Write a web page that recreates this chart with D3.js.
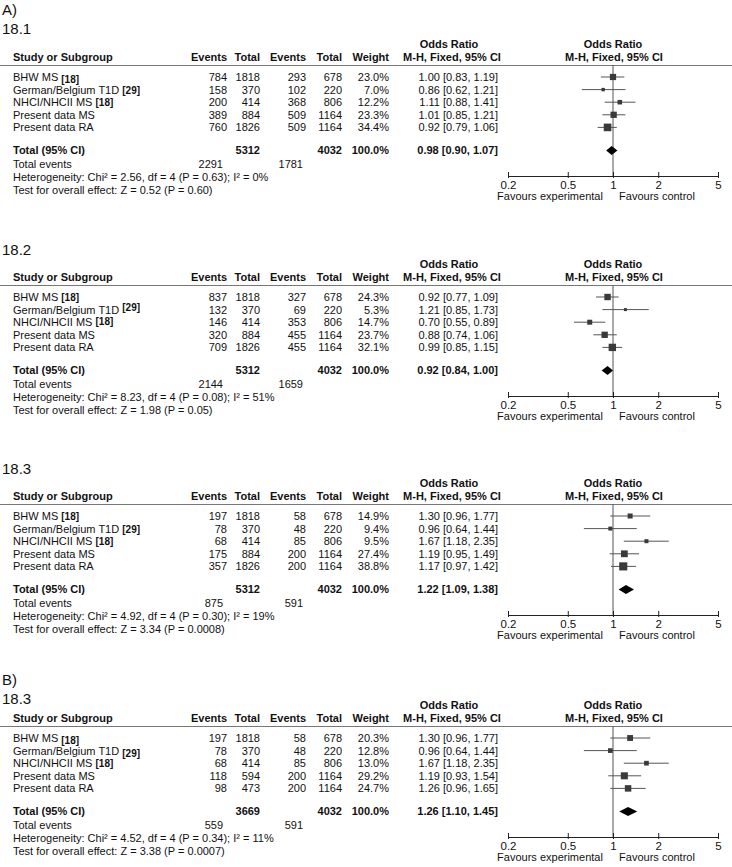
<!DOCTYPE html>
<html>
<head>
<meta charset="utf-8">
<script src="https://cdn.jsdelivr.net/npm/d3@7"></script>
<style>
  body { margin: 0; background: #fff; }
  text { font-family: "Liberation Sans", Arial, sans-serif; fill: #111; }
</style>
</head>
<body>
<div id="container"></div>
<script>
/* DATA */
const studies = ["BHW MS", "German/Belgium T1D", "NHCI/NHCII MS", "Present data MS", "Present data RA"];
const refs = ["[18]", "[29]", "[18]", "", ""];

const groupLabels = ["A)", "", "", "B)"];
const panelTitles = ["18.1", "18.2", "18.3", "18.3"];

const expEvents = [[784, 158, 200, 389, 760], [837, 132, 146, 320, 709], [197, 78, 68, 175, 357], [197, 78, 68, 118, 98]];
const expTotals = [[1818, 370, 414, 884, 1826], [1818, 370, 414, 884, 1826], [1818, 370, 414, 884, 1826], [1818, 370, 414, 594, 473]];
const ctlEvents = [[293, 102, 368, 509, 509], [327, 69, 353, 455, 455], [58, 48, 85, 200, 200], [58, 48, 85, 200, 200]];
const ctlTotals = [[678, 220, 806, 1164, 1164], [678, 220, 806, 1164, 1164], [678, 220, 806, 1164, 1164], [678, 220, 806, 1164, 1164]];
const weights = [[23.0, 7.0, 12.2, 23.3, 34.4], [24.3, 5.3, 14.7, 23.7, 32.1], [14.9, 9.4, 9.5, 27.4, 38.8], [20.3, 12.8, 13.0, 29.2, 24.7]];
const oddsRatio = [[1.00, 0.86, 1.11, 1.01, 0.92], [0.92, 1.21, 0.70, 0.88, 0.99], [1.30, 0.96, 1.67, 1.19, 1.17], [1.30, 0.96, 1.67, 1.19, 1.26]];
const ciLow = [[0.83, 0.62, 0.88, 0.85, 0.79], [0.77, 0.85, 0.55, 0.74, 0.85], [0.96, 0.64, 1.18, 0.95, 0.97], [0.96, 0.64, 1.18, 0.93, 0.96]];
const ciHigh = [[1.19, 1.21, 1.41, 1.21, 1.06], [1.09, 1.73, 0.89, 1.06, 1.15], [1.77, 1.44, 2.35, 1.49, 1.42], [1.77, 1.44, 2.35, 1.54, 1.65]];

const totalExp = [5312, 5312, 5312, 3669];
const totalCtl = [4032, 4032, 4032, 4032];
const pooledOR = [0.98, 0.92, 1.22, 1.26];
const pooledLow = [0.90, 0.84, 1.09, 1.10];
const pooledHigh = [1.07, 1.00, 1.38, 1.45];
const totalEventsExp = [2291, 2144, 875, 559];
const totalEventsCtl = [1781, 1659, 591, 591];
const chiSq = ["2.56", "8.23", "4.92", "4.52"];
const pHet = ["0.63", "0.08", "0.30", "0.34"];
const iSq = ["0%", "51%", "19%", "11%"];
const zValue = ["0.52", "1.98", "3.34", "3.38"];
const pOverall = ["0.60", "0.05", "0.0008", "0.0007"];

const axisTicks = [0.2, 0.5, 1, 2, 5];

/* CONSTANTS */
const width = 732;
const height = 867;
const lineYs = [65, 285, 504, 726];   // header rule of each panel
const rowStep = 12.6;
const fmt2 = d3.format(".2f");

// reference tag vertical offsets (some raised, some lowered in the original)
const refShift = [[2, 0, 0], [0, -3, -1], [0, 0, 0], [2, 2, 0]];

const svg = d3.select("#container")
  .append("svg")
  .attr("width", width)
  .attr("height", height);

const x = d3.scaleLog().domain([0.2, 5]).range([508, 718]);
const side = d3.scaleSqrt().domain([0, 100]).range([0, 13]);

function txt(g, xp, yp, s, opts = {}) {
  return g.append("text")
    .attr("x", xp).attr("y", yp)
    .attr("font-size", opts.size || 11)
    .attr("font-weight", opts.bold ? "bold" : null)
    .attr("text-anchor", opts.anchor || "start")
    .text(s);
}

panelTitles.forEach((title, p) => {
  const L = lineYs[p];
  const g = svg.append("g");

  // section labels
  if (p === 0) {
    txt(g, 2, L - 50, groupLabels[p], { size: 15 });
    txt(g, 2, L - 31, title, { size: 15 });
  } else if (groupLabels[p]) {
    txt(g, 2, L - 41, groupLabels[p], { size: 15 });
    txt(g, 2, L - 22, title, { size: 15 });
  } else {
    txt(g, 2, L - 30, title, { size: 15 });
  }

  // HEADERS
  txt(g, 449, L - 17, "Odds Ratio", { bold: true, anchor: "middle" });
  txt(g, 613, L - 17, "Odds Ratio", { bold: true, anchor: "middle" });
  const hy = L - 4;
  txt(g, 13, hy, "Study or Subgroup", { bold: true });
  txt(g, 227, hy, "Events", { bold: true, anchor: "end" });
  txt(g, 260, hy, "Total", { bold: true, anchor: "end" });
  txt(g, 306, hy, "Events", { bold: true, anchor: "end" });
  txt(g, 342, hy, "Total", { bold: true, anchor: "end" });
  txt(g, 389, hy, "Weight", { bold: true, anchor: "end" });
  txt(g, 452, hy, "M-H, Fixed, 95% CI", { bold: true, anchor: "middle" });
  txt(g, 614, hy, "M-H, Fixed, 95% CI", { bold: true, anchor: "middle" });

  g.append("line")
    .attr("x1", 0).attr("x2", width)
    .attr("y1", L + 0.5).attr("y2", L + 0.5)
    .attr("stroke", "#777").attr("stroke-width", 1);

  // STUDY ROWS
  const rowY = i => L + 12 + i * rowStep;
  studies.forEach((s, i) => {
    const by = rowY(i) + 4;
    const t = txt(g, 13, by, s + " ");
    if (refs[i]) {
      t.append("tspan")
        .attr("font-weight", "bold")
        .attr("font-size", 10)
        .attr("dy", refShift[p][i])
        .text(refs[i]);
    }
    txt(g, 227, by, expEvents[p][i], { anchor: "end" });
    txt(g, 260, by, expTotals[p][i], { anchor: "end" });
    txt(g, 306, by, ctlEvents[p][i], { anchor: "end" });
    txt(g, 342, by, ctlTotals[p][i], { anchor: "end" });
    txt(g, 389, by, d3.format(".1f")(weights[p][i]) + "%", { anchor: "end" });
    txt(g, 498, by, `${fmt2(oddsRatio[p][i])} [${fmt2(ciLow[p][i])}, ${fmt2(ciHigh[p][i])}]`, { anchor: "end" });
  });

  // TOTAL ROWS
  const ty = rowY(4) + 23 + 4;
  txt(g, 13, ty, "Total (95% CI)", { bold: true });
  txt(g, 260, ty, totalExp[p], { bold: true, anchor: "end" });
  txt(g, 342, ty, totalCtl[p], { bold: true, anchor: "end" });
  txt(g, 389, ty, "100.0%", { bold: true, anchor: "end" });
  txt(g, 498, ty, `${fmt2(pooledOR[p])} [${fmt2(pooledLow[p])}, ${fmt2(pooledHigh[p])}]`, { bold: true, anchor: "end" });

  txt(g, 13, ty + 13.5, "Total events");
  txt(g, 223, ty + 13.5, totalEventsExp[p], { anchor: "end" });
  txt(g, 303, ty + 13.5, totalEventsCtl[p], { anchor: "end" });
  txt(g, 13, ty + 26.5, `Heterogeneity: Chi² = ${chiSq[p]}, df = 4 (P = ${pHet[p]}); I² = ${iSq[p]}`);
  txt(g, 13, ty + 39.5, `Test for overall effect: Z = ${zValue[p]} (P = ${pOverall[p]})`);

  // FOREST PLOT
  const axisY = L + 111;
  g.append("line")
    .attr("x1", x(1)).attr("x2", x(1))
    .attr("y1", L).attr("y2", axisY)
    .attr("stroke", "#555").attr("stroke-width", 1);

  studies.forEach((s, i) => {
    const cy = rowY(i);
    g.append("line")
      .attr("x1", x(ciLow[p][i])).attr("x2", x(ciHigh[p][i]))
      .attr("y1", cy).attr("y2", cy)
      .attr("stroke", "#555").attr("stroke-width", 1);
    const w = side(weights[p][i]);
    g.append("rect")
      .attr("x", x(oddsRatio[p][i]) - w / 2).attr("y", cy - w / 2)
      .attr("width", w).attr("height", w)
      .attr("fill", "#3a3a3a");
  });

  const dy = rowY(4) + 23;
  g.append("path")
    .attr("d", `M${x(pooledLow[p])},${dy} L${x(pooledOR[p])},${dy - 4.5} L${x(pooledHigh[p])},${dy} L${x(pooledOR[p])},${dy + 4.5} Z`)
    .attr("fill", "#000");

  const axis = g.append("g")
    .attr("transform", `translate(0,${axisY})`)
    .call(d3.axisBottom(x).tickValues(axisTicks).tickFormat(d3.format("")).tickSizeInner(2).tickSizeOuter(0).tickPadding(3));
  axis.select(".domain").attr("stroke", "#222");
  axis.selectAll(".tick line").attr("y1", -4).attr("stroke", "#222");
  axis.selectAll(".tick text")
    .attr("font-family", "Liberation Sans, Arial, sans-serif")
    .attr("font-size", 11.5)
    .attr("fill", "#111");

  txt(g, 550, axisY + 24, "Favours experimental", { anchor: "middle" });
  txt(g, 657, axisY + 24, "Favours control", { anchor: "middle" });
});
</script>
</body>
</html>
